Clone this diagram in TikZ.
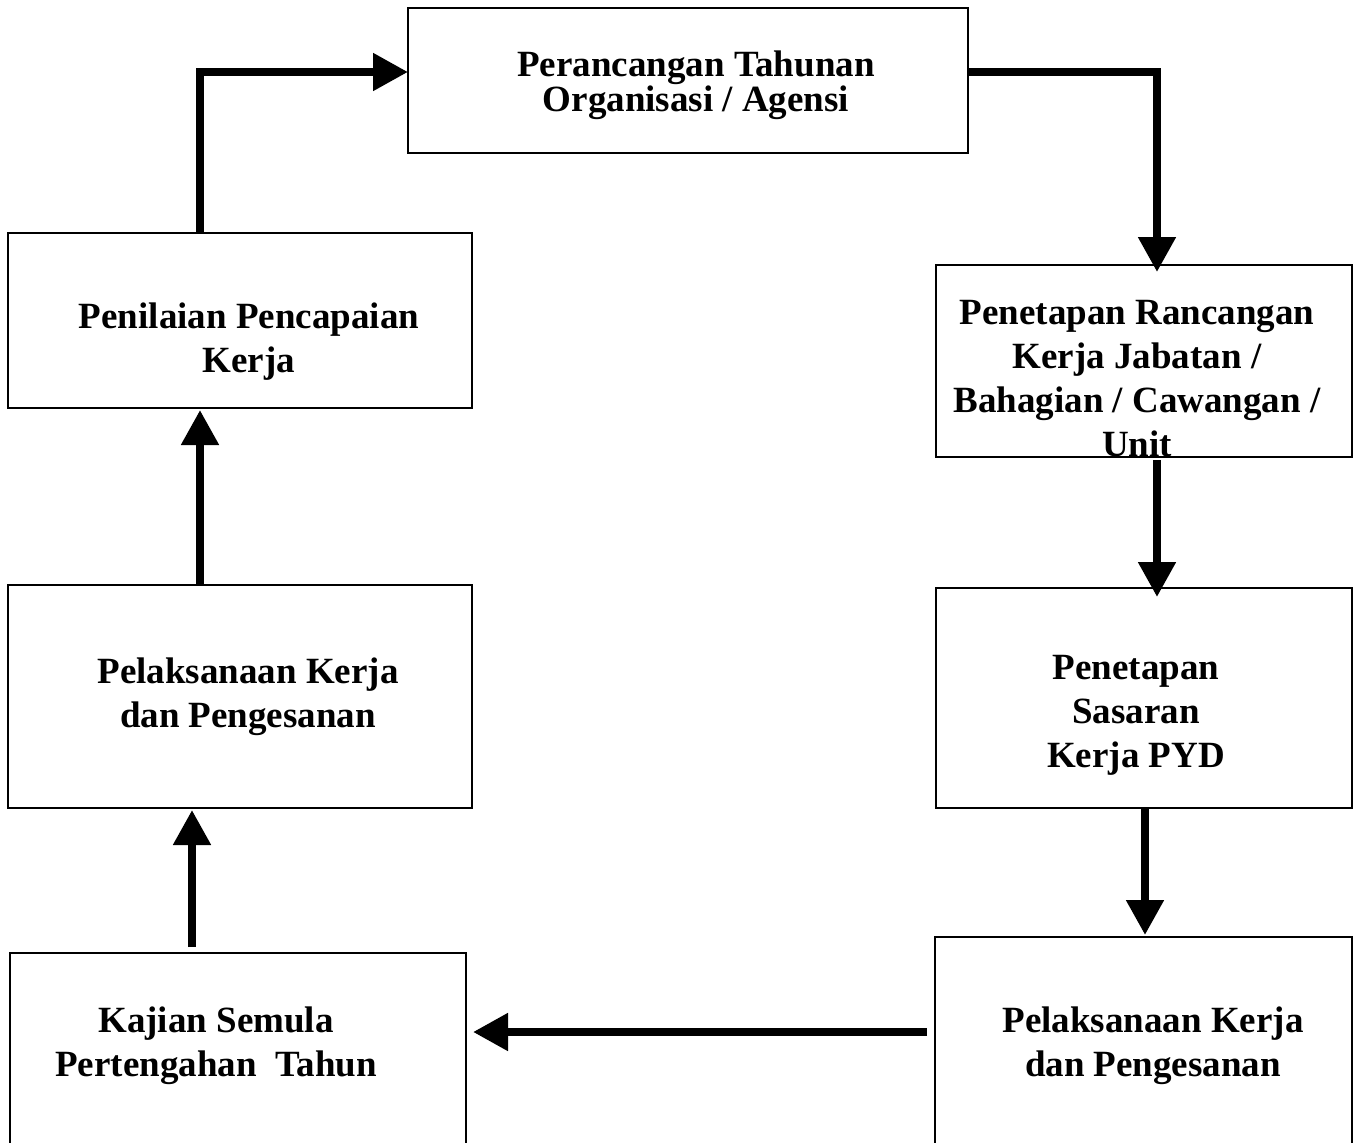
\documentclass[tikz,border=0pt]{standalone}
\usepackage{fontspec}
\setmainfont{Liberation Serif}
\usetikzlibrary{arrows.meta}
\begin{document}
\begin{tikzpicture}[x=1pt,y=-1pt,
  box/.style={draw=black,line width=1.8pt,rectangle,inner sep=0pt,outer sep=0pt},
  lbl/.style={align=center,font=\bfseries\fontsize{37}{44}\selectfont,inner sep=0pt},
  arr/.style={line width=8pt,-{Triangle[length=35pt,width=36pt]}}]
\useasboundingbox (0,0) rectangle (1358,1143);
\clip (0,0) rectangle (1358,1143);
\fill[white] (0,0) rectangle (1358,1143);
% boxes
\node[box,minimum width=560pt,minimum height=145pt] (top) at (688,80.5) {};
\node[box,minimum width=464pt,minimum height=175pt] (pen) at (240,320.5) {};
\node[box,minimum width=464pt,minimum height=223pt] (pkl) at (240,696.5) {};
\node[box,minimum width=456pt,minimum height=207pt] (kaj) at (238,1056.5) {};
\node[box,minimum width=416pt,minimum height=192pt] (ppr) at (1144,361) {};
\node[box,minimum width=416pt,minimum height=220pt] (pss) at (1144,698) {};
\node[box,minimum width=417pt,minimum height=223pt] (pkr) at (1143.5,1048.5) {};
% labels
\node[lbl,font=\bfseries\fontsize{37}{31}\selectfont] (ttop) at (696,85) {Perancangan Tahunan\\Organisasi / Agensi};
\node[lbl] (tpen) at (249,341.5) {Penilaian Pencapaian\\Kerja};
\node[lbl] (tppr) at (1137,379) {Penetapan Rancangan\\Kerja Jabatan /\\Bahagian / Cawangan /\\Unit};
\node[lbl] (tpss) at (1136,715.5) {Penetapan\\Sasaran\\Kerja PYD};
\node[lbl] (tpkl) at (248,696.5) {Pelaksanaan Kerja\\dan Pengesanan};
\node[lbl] (tkaj) at (216,1045.5) {Kajian Semula\\Pertengahan~~Tahun};
\node[lbl] (tpkr) at (1153,1045.5) {Pelaksanaan Kerja\\dan Pengesanan};
% connectors
\coordinate (c1) at ([xshift=-40pt]pen.north);
\draw[arr] (c1) |- ([yshift=8.5pt]top.west);
\coordinate (c2) at ([xshift=13pt]ppr.north);
\draw[arr] ([yshift=8.5pt]top.east) -| ([yshift=-7pt]c2);
\draw[arr] ([xshift=13pt,yshift=-3pt]ppr.south) -- ([xshift=13pt,yshift=-9pt]pss.north);
\draw[arr] ([xshift=1pt]pss.south) -- ([xshift=1.5pt,yshift=2pt]pkr.north);
\coordinate (c5) at ([xshift=-8pt,yshift=16.5pt]pkr.west);
\draw[arr] (c5) -- ([xshift=7pt]kaj.east |- c5);
\draw[arr] ([xshift=-46pt,yshift=6pt]kaj.north) -- ([xshift=-48pt,yshift=-2pt]pkl.south);
\draw[arr] ([xshift=-40pt]pkl.north) -- ([xshift=-40pt,yshift=-2pt]pen.south);
\end{tikzpicture}
\end{document}
